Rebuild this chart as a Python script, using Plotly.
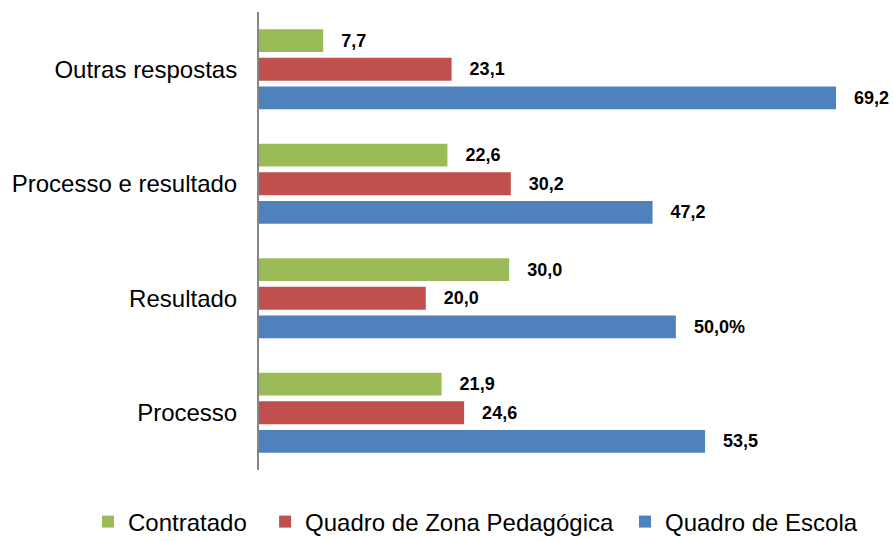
import plotly.graph_objects as go

categories = ["Processo", "Resultado", "Processo e resultado", "Outras respostas"]
series_names = ["Contratado", "Quadro de Zona Pedagógica", "Quadro de Escola"]
contratado = [21.9, 30.0, 22.6, 7.7]
zona = [24.6, 20.0, 30.2, 23.1]
escola = [53.5, 50.0, 47.2, 69.2]
contratado_labels = ["21,9", "30,0", "22,6", "7,7"]
zona_labels = ["24,6", "20,0", "30,2", "23,1"]
escola_labels = ["53,5", "50,0%", "47,2", "69,2"]
colors = ["#9BBB59", "#C0504D", "#4F81BD"]
legend_pad = ["\u00a0\u00a0", "\u00a0", ""]

W, H = 893, 541
L, R, T, B = 259, 876, 12, 470

fig = go.Figure()
pad = "\u00a0\u00a0\u00a0"
for name, vals, labs, col, lp in [
    (series_names[2], escola, escola_labels, colors[2], legend_pad[2]),
    (series_names[1], zona, zona_labels, colors[1], legend_pad[1]),
    (series_names[0], contratado, contratado_labels, colors[0], legend_pad[0]),
]:
    fig.add_trace(go.Bar(
        y=categories, x=vals, name=name + lp, orientation="h",
        marker=dict(color=col, line=dict(width=0)),
        text=[pad + t for t in labs], textposition="outside",
        textfont=dict(family="Liberation Sans, Arial", size=18, color="black", weight="bold"),
        cliponaxis=False,
    ))

fig.update_layout(
    width=W, height=H,
    margin=dict(l=L, r=W - R, t=T, b=H - B, autoexpand=False),
    plot_bgcolor="white", paper_bgcolor="white",
    barmode="group", bargap=0.25, bargroupgap=0.2,
    font=dict(family="Liberation Sans, Arial", size=24, color="black"),
    showlegend=True,
    legend=dict(orientation="h", traceorder="reversed",
                x=(88 - L) / (R - L), xanchor="left",
                y=-(522 - B) / (B - T), yanchor="middle",
                font=dict(size=24), itemwidth=30, tracegroupgap=0),
    xaxis=dict(range=[0, 74], showgrid=False, showticklabels=False, zeroline=False,
               showline=False, ticks=""),
    yaxis=dict(showgrid=False, showline=True, linecolor="#868686", linewidth=2,
               ticks="", ticklabelstandoff=15, zeroline=False, automargin=False),
)
fig.write_html("out.html", config={"displayModeBar": False},
               post_script="document.body.style.margin='0px';document.documentElement.style.overflow='hidden';")
